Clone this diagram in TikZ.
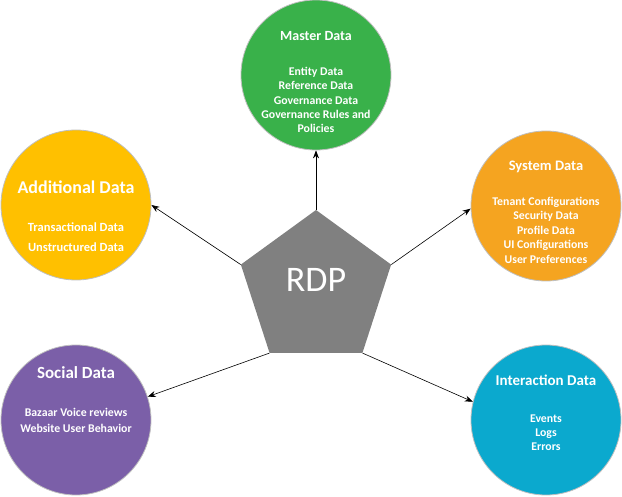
\documentclass[tikz,border=0pt]{standalone}
\usepackage{fontspec}
\setmainfont{Carlito}
\usepackage{xcolor}
\usetikzlibrary{arrows.meta, positioning, shapes.geometric}

\definecolor{masterGreen}{HTML}{39B14A}
\definecolor{systemOrange}{HTML}{F5A420}
\definecolor{addYellow}{HTML}{FFC000}
\definecolor{socialPurple}{HTML}{7B5FA8}
\definecolor{interBlue}{HTML}{0BA9CE}
\definecolor{rdpGray}{HTML}{808080}

\begin{document}
\begin{tikzpicture}[x=1pt, y=1pt,
    bubble/.style={circle, draw=black!25, line width=0.8pt, minimum size=150pt, inner sep=0pt},
    heading/.style={text=white, font=\bfseries\fontsize{#1}{#1}\selectfont, inner sep=0pt},
    items/.style={text=white, align=center, font=\bfseries\fontsize{11.8}{#1}\selectfont, inner sep=0pt},
    link/.style={-{Stealth[length=8pt, width=6pt]}, line width=0.6pt}]
    \useasboundingbox (0,0) rectangle (622,496);

    % Draw the centre pentagon
    \node[regular polygon, regular polygon sides=5, fill=rdpGray, minimum size=158pt, inner sep=0pt] (rdp) at (316,207) {};
    \node[text=white, font=\fontsize{36}{36}\selectfont] (rdpLabel) at (316,216) {RDP};

    % Draw data circles
    \node[bubble, fill=masterGreen] (master) at (316,421) {};
    \node[bubble, fill=systemOrange] (system) at (546,290) {};
    \node[bubble, fill=addYellow] (additional) at (76,291) {};
    \node[bubble, fill=socialPurple] (social) at (76,76) {};
    \node[bubble, fill=interBlue] (interaction) at (546,76) {};

    % Add headings
    \node[heading=14] (masterTitle) at (316,460) {Master Data};
    \node[heading=14.5] (systemTitle) at (546,329) {System Data};
    \node[heading=18] (additionalTitle) at (76,309) {Additional Data};
    \node[heading=17] (socialTitle) at (76,123) {Social Data};
    \node[heading=15] (interactionTitle) at (546,116) {Interaction Data};

    % Add item lists
    \node[items=14.3] (masterList) at (316,396) {Entity Data\\Reference Data\\Governance Data\\Governance Rules and\\Policies};
    \node[items=14.5] (systemList) at (546,266) {Tenant Configurations\\Security Data\\Profile Data\\UI Configurations\\User Preferences};
    \node[items=20, font=\bfseries\fontsize{12.5}{20}\selectfont] (additionalList) at (76,259) {Transactional Data\\Unstructured Data};
    \node[items=16] (socialList) at (76,76) {Bazaar Voice reviews\\Website User Behavior};
    \node[items=14] (interactionList) at (546,63) {Events\\Logs\\Errors};

    % Draw arrows
    \draw[link] (rdp.corner 1) -- (master.south);
    \draw[link] (rdp.corner 2) -- (additional.east);
    \draw[link] (rdp.corner 3) -- (social.18);
    \draw[link] (rdp.corner 4) -- (interaction.166);
    \draw[link] (rdp.corner 5) -- (system.182);
\end{tikzpicture}
\end{document}
